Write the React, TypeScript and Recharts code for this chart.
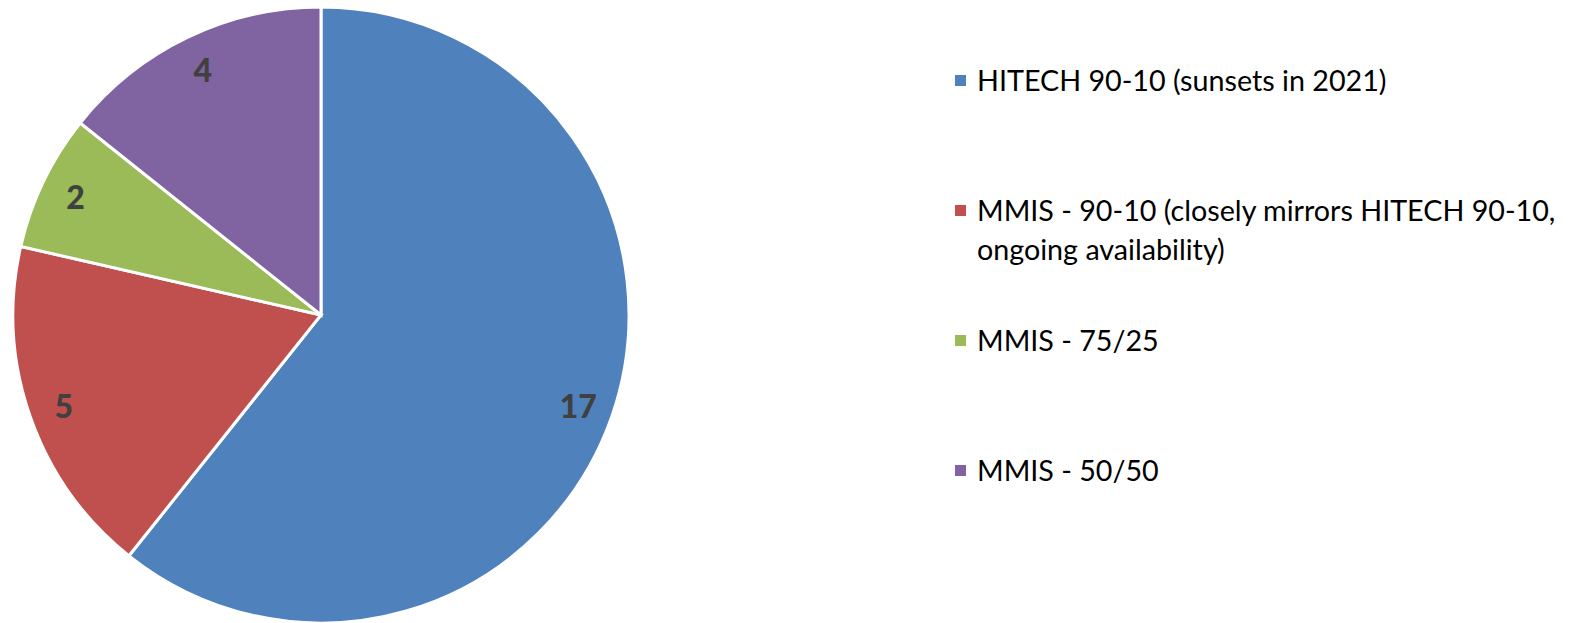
import React from 'react';
import { PieChart, Pie, Cell, Legend } from 'recharts';

const categories = [
  'HITECH 90-10 (sunsets in 2021)',
  'MMIS - 90-10 (closely mirrors HITECH 90-10, ongoing availability)',
  'MMIS - 75/25',
  'MMIS - 50/50',
];
const counts = [17, 5, 2, 4];
const colors = ['#4F81BD', '#C0504D', '#9BBB59', '#8064A2'];

const data = categories.map((name, i) => ({ name, value: counts[i] }));

const RADIAN = Math.PI / 180;
const FONT = 'Lato, "Open Sans", sans-serif';

const renderLabel = (props: any) => {
  const { cx, cy, midAngle, outerRadius, value } = props;
  const r = outerRadius * 0.885;
  const x = cx + r * Math.cos(-midAngle * RADIAN);
  const y = cy + r * Math.sin(-midAngle * RADIAN);
  return (
    <text
      x={x}
      y={y}
      fill="#404040"
      textAnchor="middle"
      dominantBaseline="central"
      style={{ fontFamily: FONT, fontSize: 32, fontWeight: 900 }}
    >
      {value}
    </text>
  );
};

const renderLegend = () => (
  <div style={{ fontFamily: FONT, fontSize: 28.7, color: '#000' }}>
    {data.map((d, i) => (
      <div key={d.name} style={{ height: 130, display: 'flex', alignItems: 'flex-start' }}>
        <div
          style={{
            width: 11,
            height: 11,
            background: colors[i],
            marginTop: 14,
            marginRight: 11,
            flexShrink: 0,
          }}
        />
        <div style={{ lineHeight: '39px', width: 590 }}>{d.name}</div>
      </div>
    ))}
  </div>
);

export default function App() {
  return (
    <div style={{ position: 'absolute', left: 0, top: 0, width: 1570, height: 623, background: '#fff' }}>
      <PieChart width={1570} height={623} margin={{ top: 0, right: 0, bottom: 0, left: 0 }}>
        <Pie
          data={data}
          dataKey="value"
          nameKey="name"
          cx={321}
          cy={315}
          outerRadius={308}
          startAngle={90}
          endAngle={-270}
          stroke="#fff"
          strokeWidth={3}
          label={renderLabel}
          labelLine={false}
          isAnimationActive={false}
        >
          {data.map((d, i) => (
            <Cell key={d.name} fill={colors[i]} />
          ))}
        </Pie>
        <Legend
          content={renderLegend}
          wrapperStyle={{ left: 955, top: 61, width: 615 }}
        />
      </PieChart>
    </div>
  );
}
